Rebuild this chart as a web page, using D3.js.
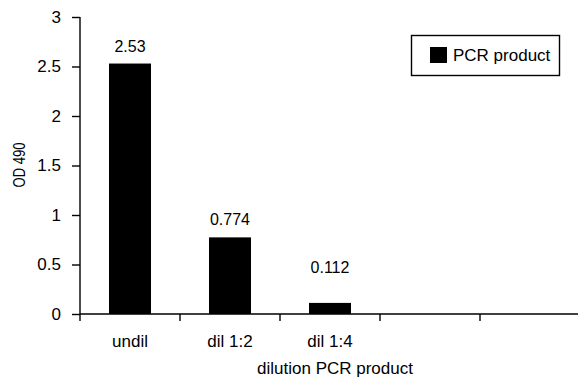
<!DOCTYPE html>
<html>
<head>
<meta charset="utf-8">
<script src="https://cdn.jsdelivr.net/npm/d3@7"></script>
<style>
body { margin: 0; background: #fff; }
svg { display: block; }
text { font-family: "Liberation Sans", Arial, sans-serif; fill: #000; }
</style>
</head>
<body>
<div id="chart"></div>
<script>
// chart values
var categories = ["undil", "dil 1:2", "dil 1:4", "", " "];
var values = [2.53, 0.774, 0.112, null, null];
var valueLabels = ["2.53", "0.774", "0.112", "", ""];
var yTicks = [0, 0.5, 1, 1.5, 2, 2.5, 3];
var seriesName = "PCR product";

var width = 578, height = 379;
var svg = d3.select("#chart").append("svg")
	.attr("width", width)
	.attr("height", height);

var x = d3.scaleBand().domain(categories).range([80, 580]).padding(0);
var xBar = d3.scaleBand().domain(categories).range([80, 580])
	.paddingInner(0.58).paddingOuter(0.29);
var y = d3.scaleLinear().domain([0, 3]).range([314, 17]);

// y axis
var yAxis = svg.append("g")
	.attr("transform", "translate(80,0)")
	.call(d3.axisLeft(y).tickValues(yTicks).tickSize(8).tickPadding(11)
		.tickFormat(d => String(d)));
yAxis.select(".domain").attr("d", "M0," + y(3) + "V" + y(0)).attr("stroke", "#000").attr("stroke-width", 1.4);
yAxis.selectAll(".tick line").attr("stroke", "#000").attr("stroke-width", 1.4);
yAxis.selectAll("text").style("font-size", "17px").style("font-family", "Liberation Sans, Arial, sans-serif");

// x axis: ticks on category boundaries
var bounds = categories.map(c => x(c)).concat([x(categories[categories.length - 1]) + x.bandwidth()]);
var xg = svg.append("g");
xg.append("line")
	.attr("x1", 80).attr("x2", 580)
	.attr("y1", y(0)).attr("y2", y(0))
	.attr("stroke", "#000").attr("stroke-width", 1.4);
xg.selectAll(".xt").data(bounds).enter().append("line")
	.attr("class", "xt")
	.attr("x1", d => d).attr("x2", d => d)
	.attr("y1", y(0)).attr("y2", y(0) + 7)
	.attr("stroke", "#000").attr("stroke-width", 1.4);
xg.selectAll(".xl").data(categories).enter().append("text")
	.attr("class", "xl")
	.attr("x", d => x(d) + x.bandwidth() / 2)
	.attr("y", 347)
	.attr("text-anchor", "middle")
	.style("font-size", "17px")
	.text(d => d.trim());

// bars
var barData = categories.map((c, i) => ({ cat: c, v: values[i], label: valueLabels[i] }))
	.filter(d => d.v != null);
svg.selectAll(".bar").data(barData).enter().append("rect")
	.attr("class", "bar")
	.attr("x", d => xBar(d.cat))
	.attr("width", xBar.bandwidth())
	.attr("y", d => y(d.v))
	.attr("height", d => y(0) - y(d.v))
	.attr("fill", "#000");

svg.selectAll(".vl").data(barData).enter().append("text")
	.attr("class", "vl")
	.attr("x", d => xBar(d.cat) + xBar.bandwidth() / 2)
	.attr("y", d => y(Math.max(d.v, 0.29)) - 12)
	.attr("text-anchor", "middle")
	.style("font-size", "16px")
	.text(d => d.label);

// axis titles
svg.append("text")
	.attr("transform", "translate(25,165) rotate(-90)")
	.attr("text-anchor", "middle")
	.attr("textLength", 45)
	.attr("lengthAdjust", "spacingAndGlyphs")
	.style("font-size", "16px")
	.text("OD 490");
svg.append("text")
	.attr("x", 335).attr("y", 374)
	.attr("text-anchor", "middle")
	.style("font-size", "17px")
	.text("dilution PCR product");

// legend
var legend = svg.append("g");
legend.append("rect")
	.attr("x", 411.5).attr("y", 35.5).attr("width", 148).attr("height", 40)
	.attr("fill", "#fff").attr("stroke", "#000").attr("stroke-width", 1.4);
legend.append("rect")
	.attr("x", 430).attr("y", 47).attr("width", 17).attr("height", 16)
	.attr("fill", "#000");
legend.append("text")
	.attr("x", 453).attr("y", 61)
	.style("font-size", "17px")
	.text(seriesName);
</script>
</body>
</html>
